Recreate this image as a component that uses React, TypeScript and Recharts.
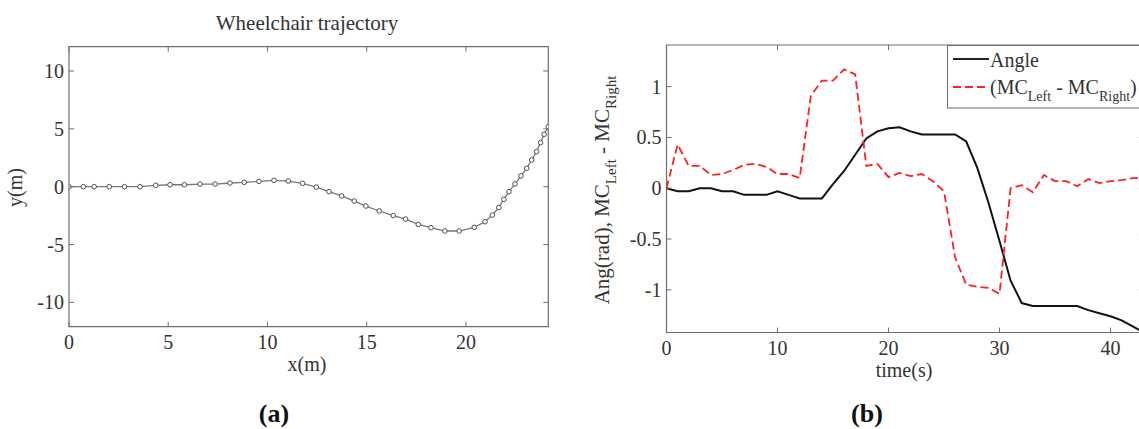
import React from 'react';
import { LineChart, Line, XAxis, YAxis, ReferenceArea, Legend } from 'recharts';

// (a) wheelchair trajectory, metres
const trajX = [0, 0.72, 1.27, 2.03, 2.79, 3.58, 4.37, 5.09, 5.81, 6.6, 7.36, 8.11, 8.83, 9.57, 10.33, 11.05, 11.77, 12.46, 13.1, 13.74, 14.37, 14.96, 15.63, 16.34, 16.96, 17.6, 18.24, 18.94, 19.66, 20.42, 20.96, 21.33, 21.66, 21.91, 22.17, 22.47, 22.77, 23.06, 23.31, 23.56, 23.76, 23.94, 24.15];
const trajY = [0, 0, 0, 0, 0, 0, 0.12, 0.17, 0.17, 0.23, 0.23, 0.32, 0.38, 0.46, 0.55, 0.49, 0.29, -0.03, -0.43, -0.8, -1.24, -1.67, -2.1, -2.5, -2.8, -3.26, -3.54, -3.83, -3.83, -3.51, -3.03, -2.45, -1.79, -1.09, -0.43, 0.23, 0.93, 1.59, 2.31, 3.03, 3.81, 4.53, 5.19];

// (b) angle and motor command difference over time (s)
const timeS = [0, 1, 2, 3, 4, 5, 6, 7, 8, 9, 10, 11, 12, 13, 14, 15, 16, 17, 18, 19, 20, 21, 22, 23, 24, 25, 26, 27, 28, 29, 30, 31, 32, 33, 34, 35, 36, 37, 38, 39, 40, 41, 42, 43];
const angleRad = [0, -0.03, -0.03, 0, 0, -0.03, -0.03, -0.065, -0.065, -0.065, -0.03, -0.065, -0.1, -0.1, -0.1, 0.04, 0.17, 0.33, 0.49, 0.56, 0.59, 0.6, 0.56, 0.53, 0.53, 0.53, 0.53, 0.46, 0.2, -0.14, -0.52, -0.91, -1.13, -1.16, -1.16, -1.16, -1.16, -1.16, -1.2, -1.23, -1.26, -1.3, -1.36, -1.42];
const mcDiff = [0, 0.43, 0.22, 0.22, 0.13, 0.14, 0.18, 0.23, 0.24, 0.21, 0.14, 0.14, 0.1, 0.91, 1.06, 1.06, 1.17, 1.12, 0.22, 0.24, 0.11, 0.15, 0.12, 0.14, 0.07, -0.03, -0.68, -0.95, -0.97, -0.98, -1.04, 0, 0.03, -0.04, 0.13, 0.07, 0.07, 0.02, 0.09, 0.05, 0.07, 0.08, 0.1, 0.1];

const xTicksA = [0, 5, 10, 15, 20];
const yTicksA = [-10, -5, 0, 5, 10];
const xTicksB = [0, 10, 20, 30, 40];
const yTicksB = [-1, -0.5, 0, 0.5, 1];

const FONT = "'Liberation Serif', 'Times New Roman', serif";
const AXIS = '#6e6e6e';
const TEXT = '#333';
const txt = { fontFamily: FONT };

const trajData = trajX.map((x, i) => ({ x, y: trajY[i] }));
const timeData = timeS.map((t, i) => ({ t, angle: angleRad[i], mc: mcDiff[i] }));

// matlab style: ticks point inward on both opposite sides
const bottomTick = (plotH: number) => (props: any) => {
  const { x, y, payload } = props;
  return (
    <g>
      <line x1={x} x2={x} y1={y} y2={y - 5} stroke={AXIS} />
      <line x1={x} x2={x} y1={y - plotH} y2={y - plotH + 5} stroke={AXIS} />
      <text x={x} y={y + 22} textAnchor="middle" fontSize={20} style={txt} fill={TEXT}>
        {payload.value}
      </text>
    </g>
  );
};

const leftTick = (plotW: number) => (props: any) => {
  const { x, y, payload } = props;
  return (
    <g>
      <line x1={x} x2={x + 5} y1={y} y2={y} stroke={AXIS} />
      <line x1={x + plotW} x2={x + plotW - 5} y1={y} y2={y} stroke={AXIS} />
      <text x={x - 5} y={y + 7} textAnchor="end" fontSize={20} style={txt} fill={TEXT}>
        {payload.value}
      </text>
    </g>
  );
};

function LegendBox() {
  return (
    <svg width={240} height={64} style={{ display: 'block' }}>
      <rect x={0.5} y={0.5} width={260} height={62.5} fill="#fff" stroke={AXIS} />
      <line x1={6} x2={42} y1={14} y2={14} stroke="#222" strokeWidth={1.8} />
      <text x={43} y={21.5} fontSize={20} style={txt} fill={TEXT}>Angle</text>
      <line x1={6} x2={42} y1={42} y2={42} stroke="#ff2020" strokeWidth={1.8} strokeDasharray="8 4" />
      <text x={43} y={48.5} fontSize={20} style={txt} fill={TEXT}>
        (MC<tspan fontSize={14} dy={7}>Left</tspan>
        <tspan dy={-7}> - MC</tspan>
        <tspan fontSize={14} dy={7}>Right</tspan>
        <tspan dy={-7}>)</tspan>
      </text>
    </svg>
  );
}

export default function App() {
  return (
    <div style={{ position: 'fixed', left: 0, top: 0, width: 1139, height: 429, overflow: 'hidden', background: '#fff' }}>
      <div style={{ position: 'absolute', left: 0, top: 0 }}>
        <LineChart width={560} height={429} data={trajData} margin={{ top: 46.7, right: 11.7, bottom: 72.3, left: 9 }}>
          <ReferenceArea x1={0} x2={24.15} y1={-12.1} y2={12.1} fill="none" stroke={AXIS} strokeWidth={1.2} />
          <XAxis type="number" dataKey="x" domain={[0, 24.15]} ticks={xTicksA} height={30}
            axisLine={false} tickLine={false} tickSize={0} tickMargin={0} tick={bottomTick(280)} allowDataOverflow />
          <YAxis type="number" domain={[-12.1, 12.1]} ticks={yTicksA} width={60}
            axisLine={false} tickLine={false} tickSize={0} tickMargin={0} tick={leftTick(479.3)} allowDataOverflow />
          <Line type="linear" dataKey="y" stroke="#777" strokeWidth={1.3} isAnimationActive={false}
            dot={{ r: 2.3, stroke: '#505050', strokeWidth: 1, fill: '#fff' }} />
        </LineChart>
      </div>

      <div style={{ position: 'absolute', left: 580, top: 0 }}>
        <LineChart width={600} height={429} data={timeData} margin={{ top: 45, right: 36.2, bottom: 66.5, left: 26.5 }}>
          <ReferenceArea x1={0} x2={43} y1={-1.42} y2={1.41} fill="none" stroke={AXIS} strokeWidth={1.2} />
          <XAxis type="number" dataKey="t" domain={[0, 43]} ticks={xTicksB} height={30}
            axisLine={false} tickLine={false} tickSize={0} tickMargin={0} tick={bottomTick(287.5)} allowDataOverflow />
          <YAxis type="number" domain={[-1.42, 1.41]} ticks={yTicksB} width={60}
            axisLine={false} tickLine={false} tickSize={0} tickMargin={0} tick={leftTick(477.3)} allowDataOverflow />
          <Line type="linear" dataKey="angle" stroke="#111" strokeWidth={2} dot={false} isAnimationActive={false} />
          <Line type="linear" dataKey="mc" stroke="#ff2020" strokeWidth={1.8} strokeDasharray="8 4" dot={false} isAnimationActive={false} />
          <Legend layout="horizontal" verticalAlign="middle" align="center" content={() => <LegendBox />}
            wrapperStyle={{ position: 'absolute', left: 367.3, top: 45, width: 240, height: 64 }} />
        </LineChart>
      </div>

      <svg width={1139} height={429} style={{ position: 'absolute', left: 0, top: 0, pointerEvents: 'none', fontFamily: FONT }}
        fill={TEXT}>
        <text x={307} y={30} textAnchor="middle" fontSize={21}>Wheelchair trajectory</text>
        <text x={307} y={371} textAnchor="middle" fontSize={20}>x(m)</text>
        <text transform="translate(22,187.5) rotate(-90)" textAnchor="middle" fontSize={20}>y(m)</text>
        <text x={274} y={422} textAnchor="middle" fontSize={26} fontWeight="bold" fill="#111">(a)</text>

        <text x={904} y={377} textAnchor="middle" fontSize={20}>time(s)</text>
        <text transform="translate(609,190) rotate(-90)" textAnchor="middle" fontSize={21}>
          Ang(rad), MC<tspan fontSize={15} dy={7}>Left</tspan>
          <tspan dy={-7}> - MC</tspan>
          <tspan fontSize={15} dy={7}>Right</tspan>
        </text>
        <text x={867} y={422} textAnchor="middle" fontSize={26} fontWeight="bold" fill="#111">(b)</text>
      </svg>
    </div>
  );
}
